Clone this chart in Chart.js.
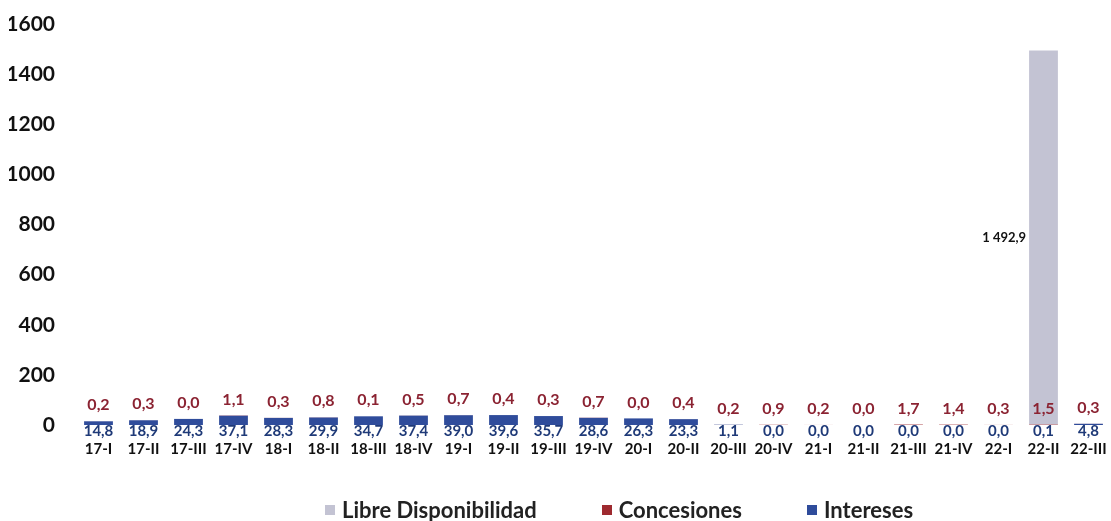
<!DOCTYPE html>
<html>
<head>
<meta charset="utf-8">
<title>Intereses, Concesiones y Libre Disponibilidad</title>
<script src="https://cdn.jsdelivr.net/npm/chart.js@4.4.1/dist/chart.umd.min.js"></script>
<style>
    html, body { margin: 0; padding: 0; background: #fff; }
    #wrap { position: relative; width: 1111px; height: 521px; }
    #legend {
        position: absolute; left: 325px; top: 496px;
        display: flex; gap: 65px;
        font: bold 22px Lato, "Open Sans", sans-serif; color: #222;
    }
    #legend span { display: flex; align-items: center; }
    #legend i { display: inline-block; width: 10px; height: 10px; margin-right: 7px; }
</style>
</head>
<body>
<div id="wrap">
    <canvas id="chart" width="1111" height="521"></canvas>
    <div id="legend"></div>
</div>
<script>
// ─── Data ─────────────────────────────────────────────────────────────────
const categories = [
    '17-I', '17-II', '17-III', '17-IV', '18-I', '18-II', '18-III', '18-IV',
    '19-I', '19-II', '19-III', '19-IV', '20-I', '20-II', '20-III', '20-IV',
    '21-I', '21-II', '21-III', '21-IV', '22-I', '22-II', '22-III',
];
const intereses = [
    14.8, 18.9, 24.3, 37.1, 28.3, 29.9, 34.7, 37.4, 39.0, 39.6, 35.7, 28.6,
    26.3, 23.3, 1.1, 0.0, 0.0, 0.0, 0.0, 0.0, 0.0, 0.1, 4.8,
];
const concesiones = [
    0.2, 0.3, 0.0, 1.1, 0.3, 0.8, 0.1, 0.5, 0.7, 0.4, 0.3, 0.7,
    0.0, 0.4, 0.2, 0.9, 0.2, 0.0, 1.7, 1.4, 0.3, 1.5, 0.3,
];
const libreDisponibilidad = [
    null, null, null, null, null, null, null, null, null, null, null, null,
    null, null, null, null, null, null, null, null, null, 1492.9, null,
];
const yTicks = [0, 200, 400, 600, 800, 1000, 1200, 1400, 1600];

const colors = {
    intereses:  '#2F4C9B',
    concesiones:'#9E2A2F',
    libre:      '#C3C3D3',
    interesesLabel:  '#1F3A78',
    concesionesLabel:'#8B2332',
};
const FONT = 'Lato, "Open Sans", sans-serif';

// Spanish number format: space thousands, comma decimal
function fmt(v) {
    const [i, d] = v.toFixed(1).split('.');
    return i.replace(/\B(?=(\d{3})+(?!\d))/g, ' ') + ',' + d;
}

// Draws the value labels next to each bar (no datalabels plugin available)
const valueLabels = {
    id: 'valueLabels',
    afterDatasetsDraw(chart) {
        const ctx = chart.ctx;
        ctx.save();
        ctx.textBaseline = 'middle';
        chart.data.datasets.forEach((ds, di) => {
            const meta = chart.getDatasetMeta(di);
            meta.data.forEach((bar, i) => {
                const v = ds.data[i];
                if (v === null || v === undefined) return;
                const text = fmt(v);
                if (ds.key === 'intereses') {
                    ctx.font = 'bold 15px ' + FONT;
                    ctx.fillStyle = colors.interesesLabel;
                    ctx.textAlign = 'center';
                    ctx.fillText(text, bar.x, bar.base + 6);
                } else if (ds.key === 'concesiones') {
                    ctx.font = 'bold 16px ' + FONT;
                    ctx.fillStyle = colors.concesionesLabel;
                    ctx.textAlign = 'center';
                    ctx.fillText(text, bar.x, bar.y - 16);
                } else {
                    ctx.font = 'bold 13px ' + FONT;
                    ctx.fillStyle = '#111';
                    ctx.textAlign = 'right';
                    ctx.fillText(text, bar.x - bar.width / 2 - 3, (bar.y + bar.base) / 2);
                }
            });
        });
        ctx.restore();
    },
};

const datasets = [
    { key: 'intereses',   label: 'Intereses',            data: intereses,           backgroundColor: colors.intereses },
    { key: 'concesiones', label: 'Concesiones',          data: concesiones,         backgroundColor: colors.concesiones },
    { key: 'libre',       label: 'Libre Disponibilidad', data: libreDisponibilidad, backgroundColor: colors.libre },
];

new Chart(document.getElementById('chart'), {
    type: 'bar',
    data: { labels: categories, datasets },
    options: {
        responsive: false,
        animation: false,
        layout: { padding: { top: 24, left: 9, right: 0, bottom: 48 } },
        datasets: { bar: { categoryPercentage: 1, barPercentage: 0.64 } },
        plugins: {
            legend: { display: false },
            tooltip: { enabled: false },
        },
        scales: {
            x: {
                stacked: true,
                grid: { display: false, drawTicks: false },
                border: { display: false },
                // keep the plot running to the right edge like the original
                afterFit: axis => { axis.paddingLeft = 0; axis.paddingRight = 0; },
                ticks: {
                    color: '#111', autoSkip: false, maxRotation: 0, padding: 15,
                    font: { family: FONT, size: 15, weight: 'bold' },
                },
            },
            y: {
                stacked: true,
                min: 0, max: 1600,
                afterBuildTicks: axis => { axis.ticks = yTicks.map(value => ({ value })); },
                afterFit: axis => { axis.width = 67; axis.paddingTop = 0; axis.paddingBottom = 0; },
                grid: { display: false, drawTicks: false },
                border: { display: false },
                ticks: {
                    color: '#111', padding: 21,
                    callback: v => String(v),
                    font: { family: FONT, size: 21, weight: 'bold' },
                },
            },
        },
    },
    plugins: [valueLabels],
});

// HTML legend, listed top-of-stack first
const legendEl = document.getElementById('legend');
datasets.slice().reverse().forEach(ds => {
    const item = document.createElement('span');
    item.innerHTML = `<i style="background:${ds.backgroundColor}"></i>${ds.label}`;
    legendEl.appendChild(item);
});
</script>
</body>
</html>
